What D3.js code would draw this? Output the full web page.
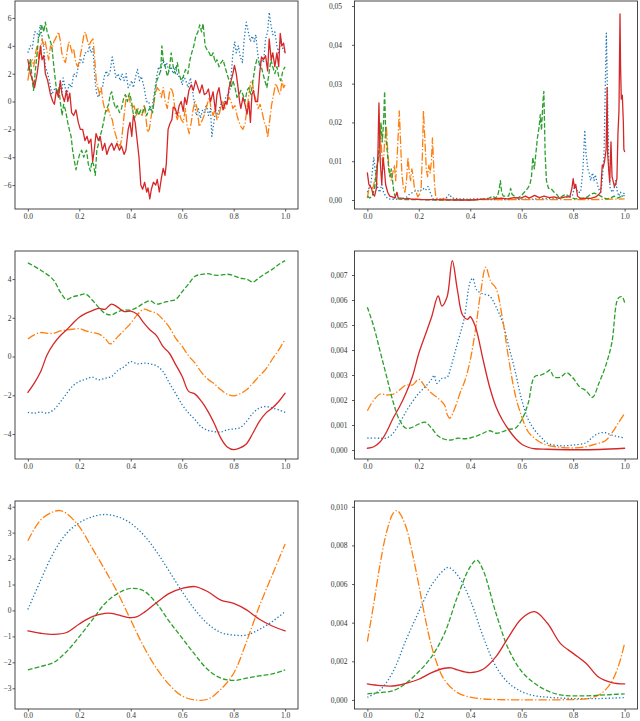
<!DOCTYPE html>
<html><head><meta charset="utf-8">
<script src="https://cdn.jsdelivr.net/npm/d3@7"></script>
<style>body{margin:0;background:#fff}svg text{font-family:"Liberation Serif","DejaVu Serif",serif}</style>
</head><body><svg id="c" width="640" height="721"></svg>
<script>
// ---------- DATA (x in [0,1]) ----------
const xTicks = [0, 0.2, 0.4, 0.6, 0.8, 1.0];

// Row 1 left: noisy paths
const tlBlue = [[0,3.5],[.010,4.0],[.017,3.8],[.026,5.0],[.034,5.0],[.041,4.6],[.048,5.5],[.054,4.8],[.062,3.8],[.068,2.5],
[.077,2.0],[.084,1.5],[.093,0.5],[.101,0.8],[.107,1.0],[.116,0.6],[.124,1.2],[.132,0.7],[.137,1.7],[.145,1.0],
[.152,0.5],[.161,1.3],[.170,1.0],[.178,2.0],[.188,1.8],[.196,2.5],[.206,3.0],[.214,2.8],[.222,3.5],[.232,3.5],
[.240,4.0],[.245,3.5],[.253,3.8],[.261,1.5],[.268,0.5],[.275,0.3],[.281,0.8],[.290,1.0],[.297,1.8],[.305,2.2],
[.312,1.8],[.320,2.2],[.328,3.2],[.335,2.5],[.342,1.7],[.351,2.0],[.359,1.5],[.366,2.0],[.374,1.5],[.382,2.0],
[.390,1.0],[.397,1.2],[.404,1.5],[.410,1.0],[.419,1.8],[.426,2.3],[.434,1.5],[.441,1.8],[.452,1.0],[.461,0.0],
[.470,0.0],[.477,-0.7],[.484,-0.3],[.493,0.8],[.501,1.8],[.508,2.5],[.516,2.2],[.524,3.0],[.532,2.5],[.539,2.8],
[.548,2.2],[.557,2.5],[.565,2.0],[.574,2.5],[.583,1.8],[.591,1.8],[.600,1.2],[.606,1.8],[.614,1.5],[.623,1.0],
[.632,1.7],[.640,0.8],[.648,-0.2],[.655,-1.0],[.663,-0.5],[.671,-1.2],[.679,-0.6],[.686,-0.8],[.694,-0.2],[.702,-1.0],
[.710,-0.5],[.715,-2.5],[.723,-1.5],[.730,-0.6],[.738,-1.0],[.746,-0.4],[.754,0.0],[.761,-0.5],[.769,0.3],[.777,0.5],
[.785,0.8],[.791,2.0],[.797,3.5],[.804,4.3],[.810,3.5],[.818,4.0],[.826,3.2],[.834,2.8],[.841,4.5],[.849,5.7],
[.857,5.0],[.865,4.3],[.872,4.7],[.880,4.3],[.886,4.8],[.893,3.5],[.901,2.5],[.908,3.0],[.916,2.8],[.924,4.5],
[.932,5.0],[.938,6.4],[.945,5.5],[.952,4.8],[.960,5.0],[.968,4.0],[.975,3.5],[.983,4.5],[.991,3.8],[1,3.5]];
const tlOrange = [[0,1.5],[.010,2.8],[.017,3.0],[.023,2.5],[.030,3.5],[.036,4.0],[.043,3.0],[.049,3.5],[.055,4.5],[.062,4.0],
[.068,4.3],[.075,3.5],[.081,3.0],[.088,4.0],[.094,3.8],[.101,4.3],[.107,4.5],[.114,4.8],[.119,5.0],[.125,4.5],
[.132,3.5],[.139,3.0],[.146,2.8],[.152,3.5],[.159,4.3],[.165,4.0],[.172,3.5],[.178,3.8],[.186,2.8],[.194,2.5],
[.201,3.0],[.209,3.8],[.217,4.7],[.223,5.0],[.230,4.5],[.237,4.0],[.245,4.3],[.253,4.5],[.258,3.5],[.266,1.5],
[.272,1.0],[.279,0.5],[.285,1.0],[.292,0.0],[.298,-0.5],[.305,-0.8],[.312,-0.5],[.320,-1.0],[.328,-1.3],[.335,-2.0],
[.343,-2.5],[.351,-3.0],[.359,-3.2],[.366,-2.5],[.374,-1.0],[.382,0.3],[.390,0.5],[.397,0.0],[.405,-0.5],[.413,-0.3],
[.421,-1.0],[.428,-0.5],[.436,-0.8],[.444,-1.0],[.452,-0.2],[.459,-1.2],[.465,-2.2],[.472,-2.0],[.480,-1.0],[.488,-0.3],
[.495,0.5],[.503,1.0],[.511,0.8],[.519,0.3],[.526,1.0],[.534,0.0],[.542,-0.5],[.550,0.6],[.557,1.0],[.565,0.5],
[.573,-0.8],[.581,-1.3],[.588,-0.8],[.596,-1.3],[.604,-1.5],[.612,-0.5],[.619,-1.7],[.627,-2.3],[.635,-1.5],[.643,-0.5],
[.650,0.0],[.658,-0.5],[.666,-1.8],[.674,-1.5],[.681,-1.2],[.689,-0.8],[.697,-0.2],[.705,0.3],[.712,-0.5],[.720,-1.0],
[.728,-0.5],[.735,-1.3],[.743,-1.0],[.751,-0.3],[.759,0.0],[.766,-0.5],[.774,0.0],[.782,0.3],[.790,0.0],[.797,-0.5],
[.805,-0.3],[.813,-1.0],[.821,-1.5],[.828,-1.8],[.836,-2.0],[.844,-1.6],[.852,-0.5],[.859,0.5],[.867,1.5],[.872,1.5],
[.880,0.5],[.888,0.0],[.895,-0.5],[.903,-0.2],[.911,-0.8],[.919,-1.5],[.926,-1.8],[.932,-2.6],[.939,-1.5],[.947,-0.3],
[.955,0.5],[.963,1.3],[.970,1.0],[.978,0.5],[.983,0.8],[.988,1.5],[.994,1.0],[1,1.2]];
const tlGreen = [[0,2.2],[.010,3.0],[.017,1.5],[.022,0.8],[.028,2.0],[.035,3.3],[.041,4.5],[.049,5.0],[.055,5.5],[.062,5.0],
[.068,5.7],[.075,5.0],[.084,4.5],[.093,4.0],[.101,2.5],[.107,1.5],[.114,0.5],[.120,1.0],[.126,0.0],[.133,-1.0],
[.139,-0.2],[.146,-0.6],[.155,-1.5],[.161,-2.0],[.168,-2.5],[.174,-3.5],[.181,-4.3],[.187,-4.9],[.194,-4.3],[.201,-3.8],
[.209,-3.5],[.217,-4.0],[.222,-3.7],[.228,-3.5],[.235,-4.5],[.243,-5.0],[.249,-4.3],[.255,-4.5],[.262,-5.3],[.268,-3.5],
[.275,-3.0],[.281,-2.5],[.288,-2.0],[.294,-1.5],[.301,-0.8],[.307,-0.5],[.314,-0.2],[.320,0.5],[.326,0.7],[.333,0.0],
[.341,-0.5],[.348,-0.3],[.356,-0.8],[.364,-0.5],[.372,0.2],[.379,0.5],[.387,0.0],[.395,0.6],[.403,0.0],[.409,-0.8],
[.415,-1.2],[.423,-0.5],[.431,-1.0],[.439,-0.6],[.446,-0.8],[.454,-0.4],[.462,-1.0],[.470,-0.6],[.477,-0.4],[.485,-0.8],
[.493,0.5],[.501,1.5],[.508,1.8],[.516,2.2],[.521,4.0],[.526,3.0],[.534,2.5],[.542,1.8],[.550,2.3],[.557,3.5],
[.565,2.5],[.573,2.0],[.581,2.8],[.588,2.0],[.596,1.5],[.604,1.8],[.613,2.3],[.622,2.0],[.630,3.0],[.637,3.5],
[.645,4.0],[.653,4.7],[.661,5.0],[.668,5.5],[.675,5.0],[.681,5.6],[.689,4.0],[.697,3.7],[.705,3.5],[.712,3.2],
[.720,3.5],[.728,2.8],[.735,3.0],[.743,2.5],[.751,2.8],[.759,3.0],[.766,2.5],[.774,2.0],[.782,1.5],[.790,1.0],
[.797,1.5],[.805,1.0],[.813,0.3],[.821,0.5],[.828,0.8],[.836,0.5],[.844,0.0],[.852,0.8],[.859,1.0],[.867,0.5],
[.875,1.5],[.883,2.5],[.890,3.0],[.898,2.8],[.906,2.6],[.914,2.0],[.921,1.5],[.929,1.0],[.937,2.0],[.945,3.0],
[.952,2.5],[.960,2.0],[.968,2.5],[.975,1.8],[.983,1.5],[.991,2.2],[1,2.5]];
const tlRed = [[0,3.0],[.010,2.0],[.019,1.5],[.026,1.0],[.036,2.0],[.043,3.0],[.049,4.0],[.055,3.0],[.062,3.3],[.068,2.0],
[.077,1.5],[.088,0.5],[.097,0.0],[.103,-0.2],[.111,0.8],[.119,0.3],[.126,1.5],[.133,0.5],[.142,0.0],[.150,0.8],
[.155,0.0],[.163,0.6],[.170,-0.8],[.178,-1.0],[.187,-0.6],[.196,-1.5],[.204,-2.0],[.213,-2.0],[.222,-2.8],[.230,-2.5],
[.237,-3.0],[.245,-2.7],[.252,-4.3],[.258,-3.5],[.265,-2.3],[.274,-2.8],[.281,-2.5],[.290,-3.5],[.299,-3.0],[.307,-3.8],
[.316,-3.3],[.326,-3.0],[.335,-3.5],[.346,-3.0],[.356,-3.5],[.364,-3.2],[.374,-3.8],[.381,-3.5],[.390,-2.0],[.397,-1.5],
[.404,-2.5],[.410,-1.0],[.417,-1.5],[.426,-3.0],[.432,-4.0],[.439,-6.0],[.446,-6.3],[.454,-5.8],[.462,-6.5],[.467,-6.2],
[.474,-7.0],[.480,-6.3],[.488,-5.8],[.497,-6.0],[.503,-5.6],[.511,-6.5],[.519,-5.5],[.526,-4.8],[.533,-5.3],[.538,-4.5],
[.545,-2.0],[.552,-1.6],[.560,-1.3],[.565,-0.4],[.573,-0.5],[.581,-1.0],[.588,-0.3],[.596,0.0],[.604,-0.7],[.610,0.3],
[.617,-0.2],[.626,0.8],[.635,1.2],[.643,0.8],[.652,1.5],[.661,1.0],[.668,0.6],[.677,1.2],[.686,0.5],[.694,0.6],
[.702,0.9],[.710,0.0],[.720,0.7],[.729,-0.7],[.735,0.5],[.743,1.0],[.751,0.0],[.759,-0.6],[.768,0.0],[.774,-0.2],
[.782,1.0],[.790,1.5],[.797,2.0],[.803,2.6],[.810,2.0],[.817,1.0],[.823,0.0],[.828,-0.5],[.836,0.3],[.844,-0.2],
[.852,-0.9],[.859,0.0],[.865,-1.5],[.871,0.5],[.877,0.8],[.884,0.0],[.893,0.0],[.901,2.0],[.908,3.2],[.916,3.0],
[.924,3.3],[.932,2.2],[.938,4.5],[.946,3.0],[.952,3.5],[.960,2.5],[.968,3.5],[.975,2.5],[.981,4.9],[.987,4.0],
[.994,4.2],[1,3.5]];

// Row 1 right: spiky densities
const trBlue = [[0,.002],[.006,.003],[.013,.004],[.019,.007],[.025,.011],[.030,.008],[.035,.005],[.041,.003],[.048,.002],[.056,.004],
[.063,.002],[.071,.001],[.080,.0003],[.093,.0002],[.112,.0002],[.138,.0004],[.154,.0008],[.164,.0015],[.177,.002],[.190,.0025],
[.203,.0022],[.216,.003],[.226,.0025],[.236,.0035],[.244,.002],[.255,.0003],[.280,.0002],[.306,.0005],[.319,.0015],[.329,.0005],
[.358,.0003],[.397,.0002],[.422,.0003],[.448,.0002],[.487,.0001],[.539,.0001],[.590,.0002],[.629,.0002],[.668,.0003],[.720,.0004],
[.758,.0006],[.797,.001],[.807,.004],[.817,.002],[.829,.002],[.838,.008],[.845,.018],[.850,.012],[.857,.008],[.862,.007],
[.868,.005],[.875,.007],[.881,.005],[.886,.0065],[.891,.005],[.898,.003],[.907,.002],[.913,.005],[.920,.012],[.925,.030],
[.929,.043],[.934,.025],[.938,.010],[.944,.003],[.952,.002],[.959,.003],[.965,.005],[.972,.002],[.978,.001],[.984,.002],
[.991,.001],[1,.002]];
const trOrange = [[0,.0005],[.006,.003],[.014,.0035],[.022,.003],[.028,.005],[.035,.007],[.041,.010],[.047,.012],[.050,.019],[.056,.012],
[.061,.008],[.067,.015],[.074,.019],[.078,.014],[.083,.009],[.088,.007],[.093,.005],[.099,.007],[.105,.009],[.110,.005],
[.115,.010],[.120,.017],[.124,.023],[.129,.015],[.134,.007],[.140,.003],[.146,.002],[.152,.005],[.158,.011],[.163,.007],
[.168,.005],[.173,.008],[.178,.006],[.183,.003],[.190,.002],[.196,.0008],[.203,.0015],[.209,.003],[.214,.012],[.218,.023],
[.224,.015],[.229,.008],[.234,.006],[.239,.009],[.244,.007],[.249,.010],[.253,.016],[.257,.010],[.261,.004],[.266,.0008],
[.274,.0003],[.306,.0002],[.358,.0001],[.435,.0001],[.513,.0001],[.590,.0001],[.655,.0001],[.720,.0001],[.797,.0001],[.875,.0001],
[.952,.0002],[1,.0003]];
const trGreen = [[0,.001],[.009,.0005],[.019,.001],[.028,.003],[.035,.008],[.041,.010],[.048,.015],[.053,.020],[.058,.015],[.063,.020],
[.067,.028],[.072,.016],[.078,.012],[.083,.008],[.088,.006],[.093,.008],[.098,.005],[.103,.002],[.110,.0005],[.125,.0002],
[.151,.0001],[.203,.0001],[.267,0],[.332,0],[.397,0],[.448,.0002],[.474,.0005],[.487,.001],[.497,.0005],[.506,.001],
[.513,.003],[.517,.005],[.522,.002],[.528,.001],[.539,.001],[.549,.001],[.557,.003],[.562,.0015],[.571,.001],[.584,.0005],
[.597,.001],[.610,.002],[.623,.003],[.632,.004],[.638,.006],[.643,.011],[.649,.008],[.655,.012],[.661,.016],[.668,.019],
[.672,.022],[.677,.018],[.682,.025],[.686,.028],[.691,.012],[.696,.005],[.704,.003],[.713,.003],[.726,.002],[.735,.0015],
[.746,.0005],[.758,.001],[.771,.0015],[.782,.001],[.797,.0005],[.810,.0003],[.829,.0005],[.842,.0005],[.855,.0008],[.868,.0015],
[.881,.0018],[.894,.0015],[.907,.001],[.920,.0005],[.933,.0003],[.946,.0005],[.959,.001],[.972,.0005],[.984,.0008],[1,.0012]];
const trRed = [[0,.007],[.006,.004],[.016,.003],[.022,.0015],[.028,.001],[.035,.003],[.041,.012],[.045,.025],[.050,.010],[.056,.004],
[.061,.011],[.066,.008],[.071,.004],[.079,.002],[.087,.001],[.097,.0008],[.107,.0005],[.115,.002],[.120,.0005],[.132,.0005],
[.145,.0003],[.158,.0004],[.171,.0002],[.190,.0002],[.216,.0001],[.255,.0001],[.306,.00005],[.358,0],[.410,0],[.448,.0002],
[.487,.0003],[.519,.0005],[.545,.0003],[.571,.0006],[.597,.0005],[.614,.001],[.629,.0005],[.650,.0012],[.668,.0006],[.687,.001],
[.707,.0006],[.726,.0008],[.746,.0004],[.771,.0008],[.787,.0008],[.795,.003],[.800,.0055],[.805,.003],[.810,.004],[.817,.001],
[.829,.0003],[.848,.0005],[.868,.0004],[.888,.0008],[.900,.0015],[.907,.002],[.913,.009],[.917,.0085],[.922,.010],[.928,.013],
[.932,.029],[.934,.012],[.938,.008],[.942,.0045],[.947,.015],[.951,.006],[.955,.005],[.960,.0035],[.965,.004],[.970,.0055],
[.974,.017],[.978,.023],[.982,.048],[.984,.035],[.987,.026],[.991,.027],[.995,.020],[.997,.013],[1,.0125]];

// Row 2 left: smooth paths
const mlBlue = [[0,-2.88],[.025,-2.92],[.05,-2.87],[.075,-2.92],[.10,-2.75],[.125,-2.37],[.15,-1.92],[.175,-1.51],[.20,-1.29],[.225,-1.17],
[.25,-1.06],[.275,-1.20],[.30,-1.12],[.325,-1.03],[.35,-0.72],[.375,-0.52],[.40,-0.26],[.425,-0.38],[.45,-0.34],[.475,-0.38],
[.50,-0.48],[.525,-0.77],[.55,-1.37],[.575,-1.92],[.60,-2.49],[.625,-2.92],[.65,-3.26],[.675,-3.64],[.70,-3.81],[.725,-3.88],
[.75,-3.90],[.775,-3.78],[.80,-3.74],[.825,-3.67],[.85,-3.35],[.875,-2.92],[.90,-2.66],[.925,-2.58],[.95,-2.66],[.975,-2.75],[1,-2.88]];
const mlOrange = [[0,0.91],[.025,1.12],[.05,1.24],[.075,1.20],[.10,1.20],[.125,1.32],[.15,1.37],[.175,1.41],[.20,1.44],[.225,1.32],
[.25,1.24],[.275,1.17],[.30,0.94],[.32,0.65],[.35,1.03],[.375,1.37],[.40,1.72],[.425,2.15],[.45,2.44],[.475,2.35],
[.50,2.23],[.525,1.92],[.55,1.51],[.575,0.94],[.60,0.52],[.625,0.03],[.65,-0.34],[.675,-0.82],[.70,-1.17],[.725,-1.41],
[.75,-1.72],[.775,-1.94],[.80,-2.03],[.825,-1.92],[.85,-1.72],[.875,-1.37],[.90,-1.00],[.925,-0.65],[.95,-0.14],[.975,0.34],[1,0.89]];
const mlGreen = [[0,4.84],[.05,4.46],[.10,3.95],[.125,3.35],[.15,2.95],[.175,3.09],[.20,3.16],[.225,3.23],[.25,2.92],[.275,2.54],
[.30,2.23],[.325,2.15],[.35,2.32],[.375,2.40],[.40,2.40],[.425,2.54],[.45,2.75],[.475,2.88],[.50,2.71],[.525,2.78],
[.55,2.87],[.575,2.95],[.60,3.35],[.625,3.75],[.65,4.15],[.675,4.24],[.70,4.28],[.725,4.20],[.75,4.20],[.775,4.25],
[.80,4.18],[.825,4.05],[.85,4.00],[.875,3.85],[.90,4.08],[.925,4.30],[.95,4.50],[.975,4.75],[1,4.95]];
const mlRed = [[0,-1.85],[.025,-1.37],[.05,-0.77],[.075,0.09],[.10,0.65],[.125,1.06],[.15,1.37],[.175,1.72],[.20,2.03],[.225,2.23],
[.25,2.37],[.275,2.49],[.30,2.44],[.325,2.71],[.35,2.54],[.375,2.32],[.40,2.35],[.425,2.18],[.45,1.75],[.475,1.37],
[.50,1.08],[.525,0.52],[.55,0.17],[.575,-0.43],[.60,-1.03],[.625,-1.80],[.65,-1.94],[.675,-2.32],[.70,-2.83],[.725,-3.47],
[.75,-4.21],[.775,-4.67],[.80,-4.81],[.825,-4.72],[.85,-4.50],[.875,-3.95],[.90,-3.35],[.925,-2.92],[.95,-2.66],[.975,-2.32],[1,-1.89]];

// Row 2 right: smooth densities
const mrBlue = [[0,.00048],[.05,.00047],[.075,.00048],[.10,.00067],[.125,.00107],[.15,.00153],[.175,.00193],[.20,.00227],[.225,.00253],[.25,.00283],
[.26,.00299],[.27,.00267],[.29,.00287],[.31,.00291],[.325,.00333],[.35,.00427],[.375,.0052],[.40,.00673],[.41,.00687],[.425,.0064],
[.45,.00624],[.475,.00616],[.50,.00573],[.525,.00513],[.55,.00413],[.575,.00313],[.60,.002],[.625,.00123],[.65,.0008],[.675,.00051],
[.70,.00027],[.75,.00017],[.80,.0002],[.85,.00029],[.875,.00051],[.90,.00067],[.925,.00069],[.95,.0006],[.975,.00053],[1,.00048]];
const mrOrange = [[0,.00157],[.025,.002],[.05,.00224],[.075,.0022],[.10,.00223],[.125,.0024],[.15,.0026],[.175,.0026],[.20,.00283],[.225,.00253],
[.25,.00227],[.275,.00207],[.30,.0018],[.31,.00143],[.32,.00127],[.34,.00167],[.36,.00227],[.38,.0028],[.40,.0036],[.42,.0048],
[.44,.00627],[.46,.00731],[.48,.00673],[.50,.00647],[.525,.00527],[.55,.0036],[.575,.0022],[.60,.00133],[.625,.00073],[.65,.00047],
[.675,.00029],[.70,.00019],[.75,.00011],[.80,.00008],[.85,.00013],[.875,.0002],[.90,.00027],[.925,.00037],[.95,.00067],[.975,.00107],[1,.00147]];
const mrGreen = [[0,.00571],[.025,.00493],[.05,.00393],[.075,.00293],[.10,.00193],[.125,.0012],[.15,.00087],[.175,.00091],[.20,.00104],[.225,.00111],
[.25,.00087],[.275,.00056],[.30,.00043],[.325,.0004],[.35,.00047],[.375,.00045],[.40,.00048],[.425,.00056],[.45,.00067],[.475,.00077],
[.50,.00067],[.525,.00073],[.55,.00083],[.575,.00087],[.60,.0012],[.625,.00187],[.65,.00293],[.675,.003],[.70,.00313],[.71,.0032],
[.725,.00293],[.75,.00291],[.775,.00309],[.80,.00287],[.825,.00253],[.85,.00237],[.875,.00211],[.90,.00267],[.925,.00333],[.95,.00427],
[.975,.00607],[.99,.00613],[1,.00589]];
const mrRed = [[0,.00007],[.025,.00013],[.05,.00033],[.075,.00073],[.10,.00127],[.125,.00173],[.15,.00227],[.175,.00293],[.20,.00387],[.225,.0046],
[.25,.00533],[.275,.00616],[.29,.00576],[.31,.00613],[.33,.00757],[.35,.0064],[.37,.0054],[.39,.00523],[.40,.00533],[.42,.00493],
[.45,.0036],[.475,.00253],[.50,.00173],[.525,.0012],[.55,.0008],[.575,.00047],[.60,.00023],[.625,.00011],[.65,.00005],[.70,.00003],
[.80,.00001],[.90,.00002],[1,.00007]];

// Row 3 left: smooth functions
const blBlue = [[0,0.04],[.05,1.17],[.10,2.23],[.15,2.97],[.20,3.38],[.25,3.61],[.30,3.70],[.35,3.61],[.40,3.36],[.45,2.91],
[.50,2.27],[.55,1.50],[.60,0.72],[.65,0.02],[.70,-0.52],[.75,-0.85],[.80,-0.95],[.85,-0.95],[.90,-0.73],[.95,-0.43],[1,-0.04]];
const blOrange = [[0,2.69],[.05,3.49],[.10,3.81],[.125,3.85],[.15,3.74],[.20,3.23],[.25,2.40],[.30,1.56],[.35,0.66],[.40,-0.37],
[.45,-1.39],[.50,-2.23],[.55,-2.87],[.60,-3.30],[.65,-3.45],[.70,-3.42],[.75,-3.04],[.80,-2.42],[.85,-1.20],[.90,0.17],[.95,1.37],[1,2.56]];
const blGreen = [[0,-2.29],[.05,-2.16],[.10,-2.01],[.15,-1.59],[.20,-1.01],[.25,-0.37],[.30,0.27],[.35,0.66],[.40,0.85],[.45,0.76],
[.50,0.27],[.55,-0.43],[.60,-1.07],[.65,-1.71],[.70,-2.29],[.75,-2.61],[.80,-2.70],[.85,-2.61],[.90,-2.52],[.95,-2.45],[1,-2.29]];
const blRed = [[0,-0.79],[.05,-0.88],[.10,-0.92],[.15,-0.85],[.20,-0.52],[.25,-0.24],[.30,-0.11],[.325,-0.11],[.35,-0.17],[.40,-0.28],
[.425,-0.24],[.45,-0.09],[.50,0.30],[.55,0.66],[.60,0.85],[.65,0.92],[.70,0.72],[.75,0.40],[.80,0.27],[.85,0.02],[.90,-0.34],[.95,-0.60],[1,-0.79]];

// Row 3 right: smooth densities
const brBlue = [[0,.00014],[.05,.00052],[.10,.00147],[.15,.0031],[.20,.00457],[.25,.00595],[.30,.00676],[.315,.00686],[.35,.00647],[.40,.00517],
[.45,.00328],[.50,.00172],[.55,.00086],[.60,.00043],[.65,.00022],[.70,.00014],[.80,.00007],[.90,.00007],[1,.00012]];
const brOrange = [[0,.00302],[.025,.005],[.05,.00707],[.075,.00871],[.10,.00966],[.115,.0098],[.125,.00969],[.15,.00897],[.175,.00759],[.20,.00595],
[.225,.00422],[.25,.00276],[.275,.00172],[.30,.00103],[.35,.00038],[.40,.00014],[.45,.00005],[.50,.00002],[.60,0],[.70,0],
[.80,.00002],[.85,.00005],[.90,.00026],[.925,.00052],[.95,.00095],[.975,.00172],[1,.00293]];
const brGreen = [[0,.00031],[.05,.00038],[.10,.00048],[.15,.00086],[.20,.00147],[.25,.00224],[.30,.00345],[.35,.00534],[.40,.0069],[.425,.00724],
[.45,.00672],[.50,.00448],[.55,.00259],[.60,.00147],[.65,.00086],[.70,.00047],[.75,.00026],[.80,.00021],[.85,.00021],[.90,.00024],[.95,.00028],[1,.00031]];
const brRed = [[0,.00083],[.05,.00074],[.10,.00072],[.15,.00086],[.20,.00107],[.25,.00141],[.30,.00164],[.325,.00166],[.35,.00155],[.40,.00141],
[.45,.00159],[.50,.00224],[.55,.00328],[.60,.00422],[.65,.00457],[.70,.00397],[.75,.00293],[.80,.00241],[.85,.0019],[.90,.00117],[.95,.0009],[1,.00083]];

// Tick values
const tlYTicks = [-6,-4,-2,0,2,4,6];
const trYTicks = [0,0.01,0.02,0.03,0.04,0.05];
const mlYTicks = [-4,-2,0,2,4];
const mrYTicks = [0,0.001,0.002,0.003,0.004,0.005,0.006,0.007];
const blYTicks = [-3,-2,-1,0,1,2,3,4];
const brYTicks = [0,0.002,0.004,0.006,0.008,0.010];

// ---------- STYLE / LAYOUT ----------
const LW = 1.3;
const styles = [
  {color:"#1f77b4", dash:`${LW},${LW*1.65}`},
  {color:"#ff7f0e", dash:`${LW*6.4},${LW*1.6},${LW},${LW*1.6}`},
  {color:"#2ca02c", dash:`${LW*3.7},${LW*1.6}`},
  {color:"#d62728", dash:null}
];
const colLeft = [15, 354.5], W = 283;
const rowTop = [1, 251, 501], H = 208;
const intFmt = v => (v < 0 ? "\u2212" : "") + Math.abs(v);
const commaFmt = n => v => v.toFixed(n).replace(".", ",");

const panels = [
  {c:0,r:0,ydom:[-7.72,7.22],ticks:tlYTicks,fmt:intFmt,pad:1,series:[tlBlue,tlOrange,tlGreen,tlRed],smooth:false},
  {c:1,r:0,ydom:[-0.00232,0.0513],ticks:trYTicks,fmt:commaFmt(2),pad:10,series:[trBlue,trOrange,trGreen,trRed],smooth:false},
  {c:0,r:1,ydom:[-5.29,5.45],ticks:mlYTicks,fmt:intFmt,pad:1,series:[mlBlue,mlOrange,mlGreen,mlRed],smooth:true},
  {c:1,r:1,ydom:[-0.00036,0.00796],ticks:mrYTicks,fmt:commaFmt(3),pad:4.5,series:[mrBlue,mrOrange,mrGreen,mrRed],smooth:true},
  {c:0,r:2,ydom:[-3.80,4.22],ticks:blYTicks,fmt:intFmt,pad:1,series:[blBlue,blOrange,blGreen,blRed],smooth:true},
  {c:1,r:2,ydom:[-0.00047,0.0103],ticks:brYTicks,fmt:commaFmt(3),pad:4.5,series:[brBlue,brOrange,brGreen,brRed],smooth:true}
];

const svg = d3.select("#c");
panels.forEach(p => {
  const L = colLeft[p.c], T = rowTop[p.r];
  const x = d3.scaleLinear().domain([-0.05, 1.05]).range([L, L + W]);
  const y = d3.scaleLinear().domain(p.ydom).range([T + H, T]);
  const g = svg.append("g");
  const line = d3.line().x(d => x(d[0])).y(d => y(d[1]))
    .curve(p.smooth ? d3.curveCatmullRom.alpha(0.5) : d3.curveLinear);
  p.series.forEach((s, i) => {
    const st = styles[i];
    g.append("path").attr("d", line(s)).attr("fill", "none")
      .attr("stroke", st.color).attr("stroke-width", LW)
      .attr("stroke-dasharray", st.dash)
      .attr("stroke-linejoin", "round")
      .attr("stroke-linecap", st.dash ? "butt" : "round");
  });
  // frame
  g.append("rect").attr("x", L).attr("y", T).attr("width", W).attr("height", H)
    .attr("fill", "none").attr("stroke", "#333").attr("stroke-width", 0.9);
  // axes
  const ax = g.append("g").attr("transform", `translate(0,${T + H})`)
    .call(d3.axisBottom(x).tickValues(xTicks).tickSize(2.5).tickPadding(p.r === 2 ? 1 : 2.5).tickFormat(d3.format(".1f")));
  const ay = g.append("g").attr("transform", `translate(${L},0)`)
    .call(d3.axisLeft(y).tickValues(p.ticks).tickSize(2.5).tickPadding(p.pad).tickFormat(p.fmt));
  [ax, ay].forEach(a => {
    a.select(".domain").remove();
    a.selectAll(".tick line").attr("stroke", "#333").attr("stroke-width", 0.8);
    a.selectAll(".tick text").attr("fill", "#333").style("font-size", "7.5px")
      .style("font-family", '"Liberation Serif","DejaVu Serif",serif');
  });
});
</script></body></html>
